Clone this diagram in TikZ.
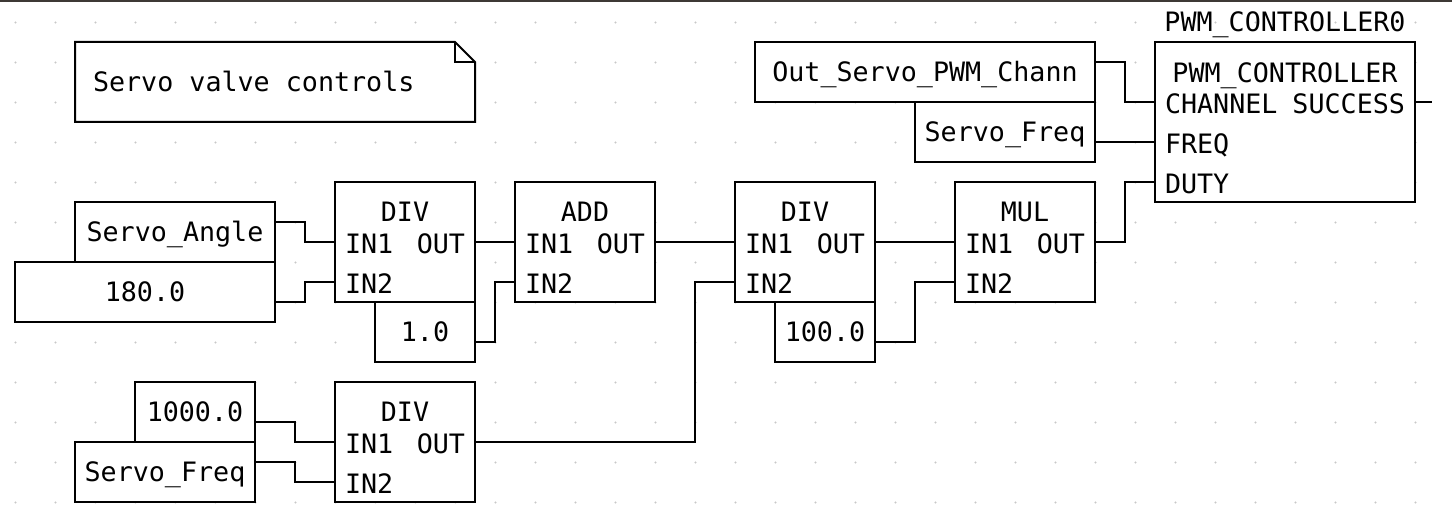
\documentclass[tikz,border=0pt]{standalone}
\usepackage{fontspec}
\newfontfamily\mono{DejaVu Sans Mono}
\definecolor{framec}{RGB}{61,57,53}
\definecolor{dotc}{RGB}{200,200,200}
\begin{document}
\begin{tikzpicture}[x=1pt,y=-1pt,
  blk/.style={draw, line width=2pt, fill=white, rectangle, inner sep=0pt, outer sep=0pt, anchor=north west},
  wire/.style={line width=2pt},
  txt/.style={inner sep=0pt, outer sep=0pt, font=\mono\fontsize{26.7}{30}\selectfont},
]
\useasboundingbox (0,0) rectangle (1452,510);
\fill[white] (0,0) rectangle (1452,510);
\fill[framec] (0,0) rectangle (1452,2);
% grid dots
\foreach \i in {0,...,35} {\foreach \j in {0,...,12} {\fill[dotc] (15.5+40*\i,22.5+40*\j) circle[radius=1.2pt];}}

% comment
\filldraw[fill=white, line width=2pt] (75,42) -- (455,42) -- (475,62) -- (475,122) -- (75,122) -- cycle;
\draw[line width=2pt] (455,42) -- (455,62) -- (475,62);
\node[txt, anchor=base west] (cmt) at (93,92) {Servo valve controls};

% value boxes
\node[blk, minimum width=200pt, minimum height=60pt] (sa) at (75,202) {};
\node[blk, minimum width=260pt, minimum height=60pt] (c180) at (15,262) {};
\node[blk, minimum width=100pt, minimum height=60pt] (c1) at (375,302) {};
\node[blk, minimum width=100pt, minimum height=60pt] (c100) at (775,302) {};
\node[blk, minimum width=120pt, minimum height=60pt] (c1000) at (135,382) {};
\node[blk, minimum width=180pt, minimum height=60pt] (sf2) at (75,442) {};
\node[blk, minimum width=340pt, minimum height=60pt] (osp) at (755,42) {};
\node[blk, minimum width=180pt, minimum height=60pt] (sf1) at (915,102) {};

\node[txt, anchor=base] (saT) at (175,242) {Servo\_Angle};
\node[txt, anchor=base] (c180T) at (145,302) {180.0};
\node[txt, anchor=base] (c1T) at (425,342) {1.0};
\node[txt, anchor=base] (c100T) at (825,342) {100.0};
\node[txt, anchor=base] (c1000T) at (195,422) {1000.0};
\node[txt, anchor=base] (sf2T) at (165,482) {Servo\_Freq};
\node[txt, anchor=base] (ospT) at (925,82) {Out\_Servo\_PWM\_Chann};
\node[txt, anchor=base] (sf1T) at (1005,142) {Servo\_Freq};

% function blocks
\node[blk, minimum width=140pt, minimum height=120pt] (d1) at (335,182) {};
\node[blk, minimum width=140pt, minimum height=120pt] (add) at (515,182) {};
\node[blk, minimum width=140pt, minimum height=120pt] (d2) at (735,182) {};
\node[blk, minimum width=140pt, minimum height=120pt] (mul) at (955,182) {};
\node[blk, minimum width=140pt, minimum height=120pt] (d3) at (335,382) {};
\node[blk, minimum width=260pt, minimum height=160pt] (pwm) at (1155,42) {};

\foreach \n/\t/\x/\y in {d1/DIV/335/182, add/ADD/515/182, d2/DIV/735/182, mul/MUL/955/182, d3/DIV/335/382} {
  \node[txt, anchor=base] (\n-title) at (\x+70,\y+40) {\t};
  \node[txt, anchor=base west] (\n-in1) at (\x+10,\y+72) {IN1};
  \node[txt, anchor=base east] (\n-out) at (\x+130,\y+72) {OUT};
  \node[txt, anchor=base west] (\n-in2) at (\x+10,\y+112) {IN2};
}

\node[txt, anchor=base] (pwmname) at (1285,32) {PWM\_CONTROLLER0};
\node[txt, anchor=base] (pwmtype) at (1285,83) {PWM\_CONTROLLER};
\node[txt, anchor=base west] (pwmch) at (1165,114) {CHANNEL};
\node[txt, anchor=base east] (pwmsu) at (1405,114) {SUCCESS};
\node[txt, anchor=base west] (pwmfr) at (1165,154) {FREQ};
\node[txt, anchor=base west] (pwmdu) at (1165,194) {DUTY};

% wires
\draw[wire] ([yshift=-20pt]sa.north east) -- ++(30,0) |- ([yshift=-60pt]d1.north west);
\draw[wire] ([yshift=-40pt]c180.north east) -- ++(30,0) |- ([yshift=-100pt]d1.north west);
\draw[wire] ([yshift=-40pt]c1.north east) -- ++(20,0) |- ([yshift=-100pt]add.north west);
\draw[wire] ([yshift=-60pt]d1.north east) -- ([yshift=-60pt]add.north west);
\draw[wire] ([yshift=-60pt]add.north east) -- ([yshift=-60pt]d2.north west);
\draw[wire] ([yshift=-60pt]d3.north east) -- ++(220,0) |- ([yshift=-100pt]d2.north west);
\draw[wire] ([yshift=-40pt]c100.north east) -- ++(40,0) |- ([yshift=-100pt]mul.north west);
\draw[wire] ([yshift=-60pt]d2.north east) -- ([yshift=-60pt]mul.north west);
\draw[wire] ([yshift=-60pt]mul.north east) -- ++(30,0) |- ([yshift=-140pt]pwm.north west);
\draw[wire] ([yshift=-40pt]c1000.north east) -- ++(40,0) |- ([yshift=-60pt]d3.north west);
\draw[wire] ([yshift=-20pt]sf2.north east) -- ++(40,0) |- ([yshift=-100pt]d3.north west);
\draw[wire] ([yshift=-20pt]osp.north east) -- ++(30,0) |- ([yshift=-60pt]pwm.north west);
\draw[wire] ([yshift=-40pt]sf1.north east) -- ([yshift=-100pt]pwm.north west);
\coordinate (succend) at (1432,102);
\draw[wire] ([yshift=-60pt]pwm.north east) -- (succend);
\end{tikzpicture}
\end{document}
